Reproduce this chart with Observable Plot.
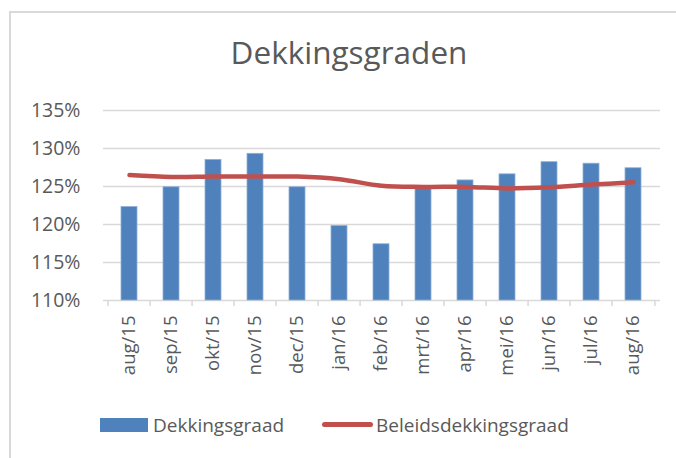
<!DOCTYPE html>
<html>
<head>
<meta charset="utf-8">
<script src="https://cdn.jsdelivr.net/npm/d3@7"></script>
<script src="https://cdn.jsdelivr.net/npm/@observablehq/plot@0.6"></script>
<style>
  html, body { margin: 0; padding: 0; background: #fff; }
  #wrap { position: relative; width: 676px; height: 458px; overflow: hidden; font-family: "Open Sans", sans-serif; color: #595959; }
  #border { position: absolute; left: 9px; top: 11px; width: 700px; height: 500px; border-left: 2px solid #d9d9d9; border-top: 2px solid #d9d9d9; box-sizing: border-box; }
  #title { position: absolute; left: 0; width: 698px; top: 32px; text-align: center; font-size: 31.5px; line-height: 40px; }
  #chart { position: absolute; left: 0; top: 0; }
  .leg { position: absolute; top: 412px; font-size: 19px; line-height: 26px; white-space: nowrap; }
  .sw { position: absolute; }
</style>
</head>
<body>
<div id="wrap">
  <div id="border"></div>
  <div id="chart"></div>
  <div id="title">Dekkingsgraden</div>
  <div class="sw" style="left:100px;top:418px;width:48px;height:14px;background:#4f81bd"></div>
  <div class="leg" style="left:153px">Dekkingsgraad</div>
  <div class="sw" style="left:322px;top:422px;width:51px;height:5px;border-radius:3px;background:#c0504d"></div>
  <div class="leg" style="left:376px">Beleidsdekkingsgraad</div>
</div>
<script>
const months = ["aug/15","sep/15","okt/15","nov/15","dec/15","jan/16","feb/16","mrt/16","apr/16","mei/16","jun/16","jul/16","aug/16"];
const dekkingsgraad = [122.3, 124.9, 128.5, 129.3, 124.9, 119.8, 117.4, 124.9, 125.8, 126.6, 128.2, 128.0, 127.4];
const beleidsdekkingsgraad = [126.5, 126.25, 126.3, 126.3, 126.3, 125.95, 125.1, 124.95, 124.95, 124.75, 124.9, 125.25, 125.55];
const yTicks = [110, 115, 120, 125, 130, 135];

const data = months.map((m, i) => ({month: m, dg: dekkingsgraad[i], bdg: beleidsdekkingsgraad[i]}));

const W = 676, H = 458, ML = 103, MR = 16, MT = 110, MB = 158;
const step = (W - ML - MR) / months.length;
const grey = "#d9d9d9";

const chart = Plot.plot({
  width: W,
  height: H,
  marginLeft: ML,
  marginRight: MR,
  marginTop: MT,
  marginBottom: MB,
  style: {fontFamily: "Open Sans, sans-serif", fontSize: "18.5px", color: "#595959", background: "transparent"},
  x: {domain: months, paddingInner: 0.61, paddingOuter: 0.305, label: null},
  y: {domain: [110, 135], label: null},
  marks: [
    Plot.ruleY(yTicks, {stroke: grey, strokeWidth: 1.5}),
    Plot.ruleX(months, {x: d => d, y1: 110, y2: 110, dx: -step / 2, insetBottom: -6, stroke: grey, strokeWidth: 1.5}),
    Plot.ruleX([months[months.length - 1]], {x: d => d, y1: 110, y2: 110, dx: step / 2, insetBottom: -6, stroke: grey, strokeWidth: 1.5}),
    Plot.barY(data, {x: "month", y1: 110, y2: "dg", fill: "#4f81bd", stroke: "#8fb0d8", strokeWidth: 0.8}),
    Plot.line(data, {x: "month", y: "bdg", stroke: "#c0504d", strokeWidth: 4.5, curve: "catmull-rom", strokeLinecap: "round"}),
    Plot.axisY({ticks: yTicks, tickFormat: d => d + "%", tickSize: 0, tickPadding: 23, fill: "#595959", fontSize: 19.5}),
    Plot.axisX({tickSize: 0, tickRotate: -90, tickPadding: 15, fill: "#595959", fontSize: 18.5})
  ]
});
document.getElementById("chart").appendChild(chart);
</script>
</body>
</html>
